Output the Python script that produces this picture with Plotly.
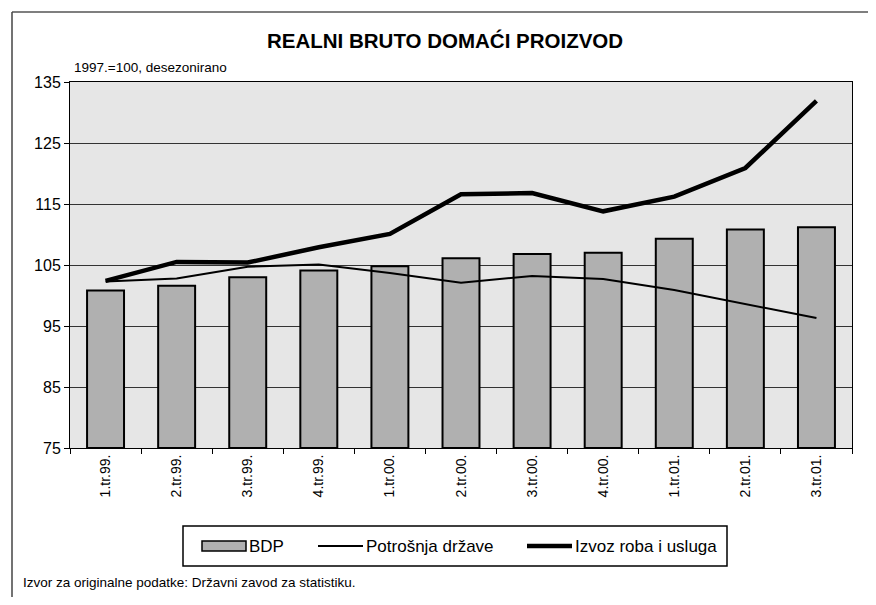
import plotly.graph_objects as go

categories = ["1.tr.99.", "2.tr.99.", "3.tr.99.", "4.tr.99.", "1.tr.00.", "2.tr.00.",
              "3.tr.00.", "4.tr.00.", "1.tr.01.", "2.tr.01.", "3.tr.01."]
bdp = [100.8, 101.6, 103.0, 104.1, 104.8, 106.1, 106.8, 107.0, 109.3, 110.8, 111.2]
potrosnja_drzave = [102.3, 102.8, 104.7, 105.1, 103.7, 102.1, 103.2, 102.7, 100.9, 98.6, 96.3]
izvoz = [102.4, 105.5, 105.4, 107.9, 110.1, 116.6, 116.8, 113.8, 116.2, 120.9, 131.9]
y_ticks = [75, 85, 95, 105, 115, 125, 135]
y_floor = 75

SCREEN_W, SCREEN_H = 876, 605
OFF = 8  # page body margin offset (on every side)
W, H = SCREEN_W - 2 * OFF, SCREEN_H - 2 * OFF
L, R, T, B = 70, 852, 82, 448  # plot area in screen pixels


def px(x):
    return (x - L) / (R - L)


def py(y):
    return (B - y) / (B - T)


FONT = "Liberation Sans, Arial, sans-serif"
BAR_FILL = "#b0b0b0"

fig = go.Figure()
fig.add_trace(go.Bar(
    x=categories, y=[v - y_floor for v in bdp], base=y_floor, name="BDP",
    marker=dict(color=BAR_FILL, line=dict(color="black", width=2)),
))
fig.add_trace(go.Scatter(
    x=categories, y=potrosnja_drzave, name="Potrošnja države", mode="lines",
    line=dict(color="black", width=2),
))
fig.add_trace(go.Scatter(
    x=categories, y=izvoz, name="Izvoz roba i usluga", mode="lines",
    line=dict(color="black", width=4.5),
))

leg_y = 546
shapes = [
    # legend box
    dict(type="rect", xref="paper", yref="paper",
         x0=px(183), x1=px(727), y0=py(566), y1=py(526),
         line=dict(color="black", width=1.5), fillcolor="rgba(0,0,0,0)"),
    # legend symbols
    dict(type="rect", xref="paper", yref="paper",
         x0=px(202), x1=px(246), y0=py(551), y1=py(541),
         line=dict(color="black", width=1.5), fillcolor=BAR_FILL),
    dict(type="line", xref="paper", yref="paper",
         x0=px(318), x1=px(363), y0=py(leg_y), y1=py(leg_y),
         line=dict(color="black", width=2)),
    dict(type="line", xref="paper", yref="paper",
         x0=px(527), x1=px(572), y0=py(leg_y), y1=py(leg_y),
         line=dict(color="black", width=4.5)),
    # outer frame
    dict(type="line", xref="paper", yref="paper",
         x0=px(12), x1=px(870), y0=py(12), y1=py(12),
         line=dict(color="#555555", width=1.5)),
    dict(type="line", xref="paper", yref="paper",
         x0=px(12), x1=px(12), y0=py(12), y1=py(600),
         line=dict(color="#444444", width=1.5)),
]

annotations = [
    dict(text="<b>REALNI BRUTO DOMAĆI PROIZVOD</b>", xref="paper", yref="paper",
         x=px(445), y=py(40), xanchor="center", yanchor="middle", showarrow=False,
         font=dict(size=20.5, family=FONT, color="black")),
    dict(text="1997.=100, desezonirano", xref="paper", yref="paper",
         x=px(72), y=py(67), xanchor="left", yanchor="middle", showarrow=False,
         font=dict(size=13.5, family=FONT, color="black")),
    dict(text="Izvor za originalne podatke: Državni zavod za statistiku.", xref="paper", yref="paper",
         x=px(21), y=py(582), xanchor="left", yanchor="middle", showarrow=False,
         font=dict(size=13.5, family=FONT, color="black")),
    dict(text="BDP", xref="paper", yref="paper",
         x=px(247), y=py(leg_y), xanchor="left", yanchor="middle", showarrow=False,
         font=dict(size=17, family=FONT, color="black")),
    dict(text="Potrošnja države", xref="paper", yref="paper",
         x=px(364), y=py(leg_y), xanchor="left", yanchor="middle", showarrow=False,
         font=dict(size=17, family=FONT, color="black")),
    dict(text="Izvoz roba i usluga", xref="paper", yref="paper",
         x=px(573), y=py(leg_y), xanchor="left", yanchor="middle", showarrow=False,
         font=dict(size=17, family=FONT, color="black")),
]

fig.update_layout(
    width=W, height=H,
    margin=dict(l=L - OFF, r=W - (R - OFF), t=T - OFF, b=H - (B - OFF)),
    paper_bgcolor="white",
    plot_bgcolor="#e6e6e6",
    bargap=0.48,
    showlegend=False,
    font=dict(family=FONT, color="black"),
    xaxis=dict(
        type="category", tickangle=-90, tickson="boundaries",
        ticks="outside", ticklen=5, tickcolor="black",
        showline=True, linecolor="black", linewidth=1, mirror=True,
        showgrid=False,
        tickfont=dict(size=14, family=FONT, color="black"),
    ),
    yaxis=dict(
        range=[75, 135], tickvals=y_ticks, ticktext=[str(v) for v in y_ticks],
        ticks="outside", ticklen=5, tickcolor="black",
        showline=True, linecolor="black", linewidth=1, mirror=True,
        showgrid=True, gridcolor="#333333", gridwidth=1,
        zeroline=False,
        tickfont=dict(size=16, family=FONT, color="black"),
    ),
    shapes=shapes,
    annotations=annotations,
)

fig.write_html("out.html")
